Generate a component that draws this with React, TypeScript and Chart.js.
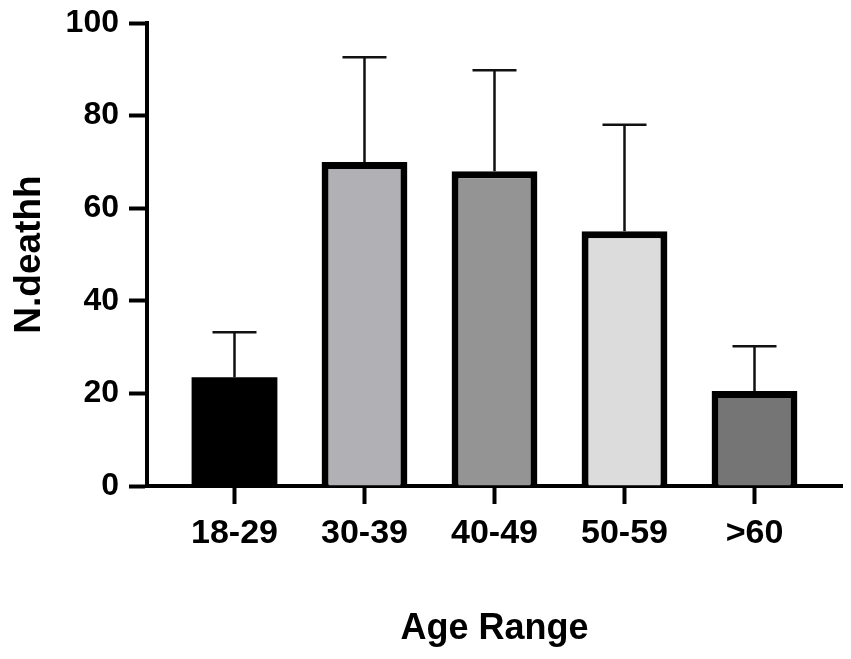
import { useEffect, useRef } from "react";
import { Chart, registerables } from "chart.js";

Chart.register(...registerables);

const ageRanges = ["18-29", "30-39", "40-49", "50-59", ">60"];
const deaths = [23.5, 70, 68, 55, 20.5];
const deathsUpper = [33.2, 92.6, 89.8, 78, 30.2];
const barColors = ["#000000", "#b1b0b5", "#949494", "#dcdcdc", "#757575"];
const yTicks = [0, 20, 40, 60, 80, 100];

const FONT = "'Liberation Sans', Arial, Helvetica, sans-serif";

// draws the upper error bar (line + cap) for every bar
const errorBars = {
  id: "errorBars",
  afterDatasetsDraw(chart: any) {
    const { ctx, scales } = chart;
    const meta = chart.getDatasetMeta(0);
    ctx.save();
    ctx.strokeStyle = "#111";
    ctx.lineWidth = 2.5;
    meta.data.forEach((bar: any, i: number) => {
      const x = bar.x;
      const yTop = scales.y.getPixelForValue(deathsUpper[i]);
      const yBase = scales.y.getPixelForValue(deaths[i]);
      ctx.beginPath();
      ctx.moveTo(x, yBase);
      ctx.lineTo(x, yTop);
      ctx.moveTo(x - 22, yTop);
      ctx.lineTo(x + 22, yTop);
      ctx.stroke();
    });
    ctx.restore();
  },
};

export default function App() {
  const canvasRef = useRef<HTMLCanvasElement>(null);
  const chartRef = useRef<Chart | null>(null);

  useEffect(() => {
    if (!canvasRef.current) return;
    if (chartRef.current) chartRef.current.destroy();

    chartRef.current = new Chart(canvasRef.current, {
      type: "bar",
      data: {
        datasets: [
          {
            label: "N.deathh",
            data: deaths.map((v, i) => ({ x: i, y: v })),
            backgroundColor: barColors,
            borderColor: "#000",
            borderWidth: [0, 7, 7, 7, 7],
            barPercentage: 0.66,
            categoryPercentage: 1,
          },
        ],
      },
      options: {
        responsive: false,
        animation: false,
        events: [],
        layout: { padding: { top: 23, right: 9, left: 0, bottom: 0 } },
        plugins: {
          legend: { display: false },
          tooltip: { enabled: false },
        },
        scales: {
          x: {
            type: "linear",
            offset: false,
            min: -0.673,
            max: ageRanges.length - 1 + 0.673,
            afterBuildTicks: (axis: any) => {
              axis.ticks = ageRanges.map((_, i) => ({ value: i }));
            },
            afterFit: (axis: any) => {
              axis.height = 173;
              axis.paddingLeft = 0;
              axis.paddingRight = 0;
            },
            ticks: {
              autoSkip: false,
              maxRotation: 0,
              padding: 9,
              color: "#000",
              font: { family: FONT, size: 34, weight: "bold" },
              callback: (v: any) => ageRanges[Math.round(Number(v))],
            },
            grid: {
              offset: false,
              drawOnChartArea: false,
              drawTicks: true,
              tickLength: 18,
              tickWidth: 4,
              tickColor: "#000",
            },
            border: { display: true, color: "#000", width: 4 },
            title: {
              display: true,
              text: "Age Range",
              color: "#000",
              font: { family: FONT, size: 36, weight: "bold" },
              padding: { top: 0, bottom: 8 },
            },
          },
          y: {
            min: 0,
            max: 100,
            afterBuildTicks: (axis: any) => {
              axis.ticks = yTicks.map((v) => ({ value: v }));
            },
            afterFit: (axis: any) => {
              axis.width = 147;
              axis.paddingTop = 0;
              axis.paddingBottom = 0;
            },
            ticks: {
              padding: 10,
              color: "#000",
              font: { family: FONT, size: 32, weight: "bold" },
            },
            grid: {
              drawOnChartArea: false,
              drawTicks: true,
              tickLength: 18,
              tickWidth: 4,
              tickColor: "#000",
            },
            border: { display: true, color: "#000", width: 4 },
            title: {
              display: true,
              text: "N.deathh",
              color: "#000",
              font: { family: FONT, size: 37, weight: "bold" },
              padding: { top: 8, bottom: 0 },
            },
          },
        },
      },
      plugins: [errorBars],
    } as any);

    return () => {
      if (chartRef.current) {
        chartRef.current.destroy();
        chartRef.current = null;
      }
    };
  }, []);

  return (
    <div style={{ position: "absolute", left: 0, top: 0, width: 851, height: 659, background: "#fff" }}>
      <canvas ref={canvasRef} width={851} height={659} style={{ display: "block" }} />
    </div>
  );
}
